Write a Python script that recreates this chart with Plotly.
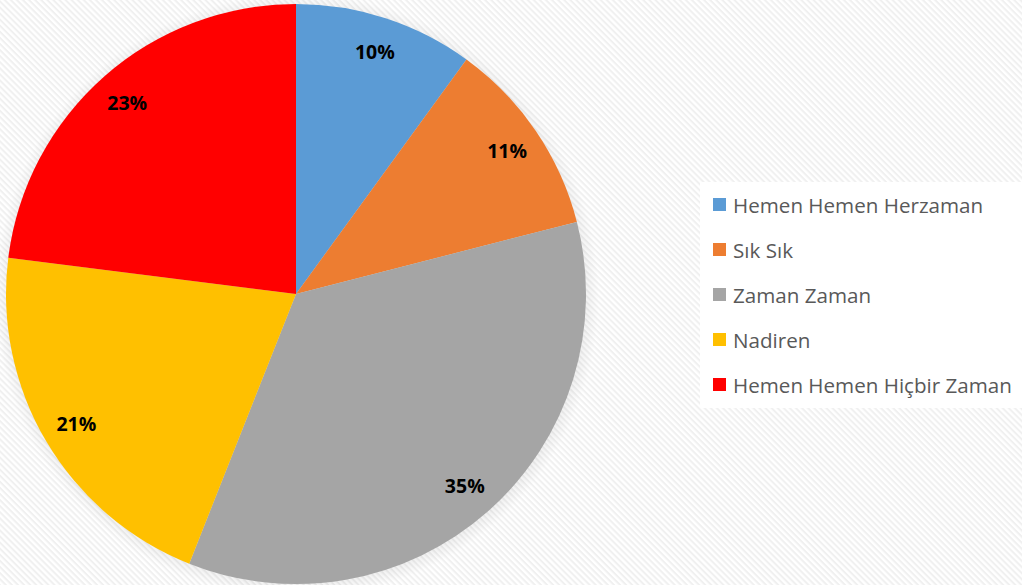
import plotly.graph_objects as go
import base64

labels = ["Hemen Hemen Herzaman", "Sık Sık", "Zaman Zaman", "Nadiren", "Hemen Hemen Hiçbir Zaman"]
values = [10, 11, 35, 21, 23]
colors = ["#5B9BD5", "#ED7D31", "#A5A5A5", "#FFC000", "#FF0000"]

W, H = 1022, 585

svg = f'''<svg xmlns="http://www.w3.org/2000/svg" width="{W}" height="{H}">
<defs><pattern id="p" width="4.3" height="4.3" patternUnits="userSpaceOnUse" patternTransform="rotate(45)">
<rect width="4.3" height="4.3" fill="#ffffff"/><rect width="4.3" height="2" fill="#f0f0f0"/></pattern>
<radialGradient id="s" cx="0.5" cy="0.5" r="0.5">
<stop offset="0.9" stop-color="#000" stop-opacity="0.12"/>
<stop offset="1" stop-color="#000" stop-opacity="0"/></radialGradient></defs>
<rect width="{W}" height="{H}" fill="url(#p)"/>
<circle cx="297" cy="296" r="302" fill="url(#s)"/></svg>'''
bg = "data:image/svg+xml;base64," + base64.b64encode(svg.encode()).decode()

dom = dict(x=[6 / W, 586 / W], y=[1 / H, 581 / H])

fig = go.Figure()
fig.add_trace(go.Pie(
    labels=labels, values=values, sort=False, direction="clockwise", rotation=0,
    marker=dict(colors=colors, line=dict(width=0)),
    textinfo="none", domain=dom, showlegend=False, hoverinfo="skip",
))
# transparent ring used only to place the percentage labels near the rim
fig.add_trace(go.Pie(
    labels=labels, values=values, sort=False, direction="clockwise", rotation=0,
    hole=0.76,
    marker=dict(colors=["rgba(0,0,0,0)"] * len(values), line=dict(width=0)),
    textinfo="percent", textposition="inside", insidetextorientation="horizontal",
    texttemplate="%{percent:.0%}",
    textfont=dict(family="Open Sans", size=19.5, color="#000000", weight="bold"),
    domain=dom, showlegend=False, hoverinfo="skip",
))

# legend box
fig.add_shape(type="rect", xref="paper", yref="paper",
              x0=700 / W, x1=1.0, y0=1 - 408 / H, y1=1 - 182 / H,
              fillcolor="#ffffff", line=dict(width=0), layer="below")
y0 = 204.5
for i, (lab, col) in enumerate(zip(labels, colors)):
    yc = y0 + 45 * i
    fig.add_shape(type="rect", xref="paper", yref="paper",
                  x0=713 / W, x1=726 / W, y0=1 - (yc + 6.5) / H, y1=1 - (yc - 6.5) / H,
                  fillcolor=col, line=dict(width=0))
    fig.add_annotation(x=731 / W, y=1 - yc / H, xref="paper", yref="paper",
                       text=lab, showarrow=False, xanchor="left", yanchor="middle",
                       font=dict(family="Open Sans", size=20.6, color="#595959"))

fig.update_layout(
    width=W, height=H, margin=dict(l=0, r=0, t=0, b=0),
    paper_bgcolor="#f7f7f7", plot_bgcolor="rgba(0,0,0,0)",
    images=[dict(source=bg, xref="paper", yref="paper", x=0, y=1, sizex=1, sizey=1,
                 xanchor="left", yanchor="top", sizing="stretch", layer="below")],
)
fig.write_html("out.html", config={"displayModeBar": False},
               post_script="document.body.style.margin='0';document.body.style.overflow='hidden';")
